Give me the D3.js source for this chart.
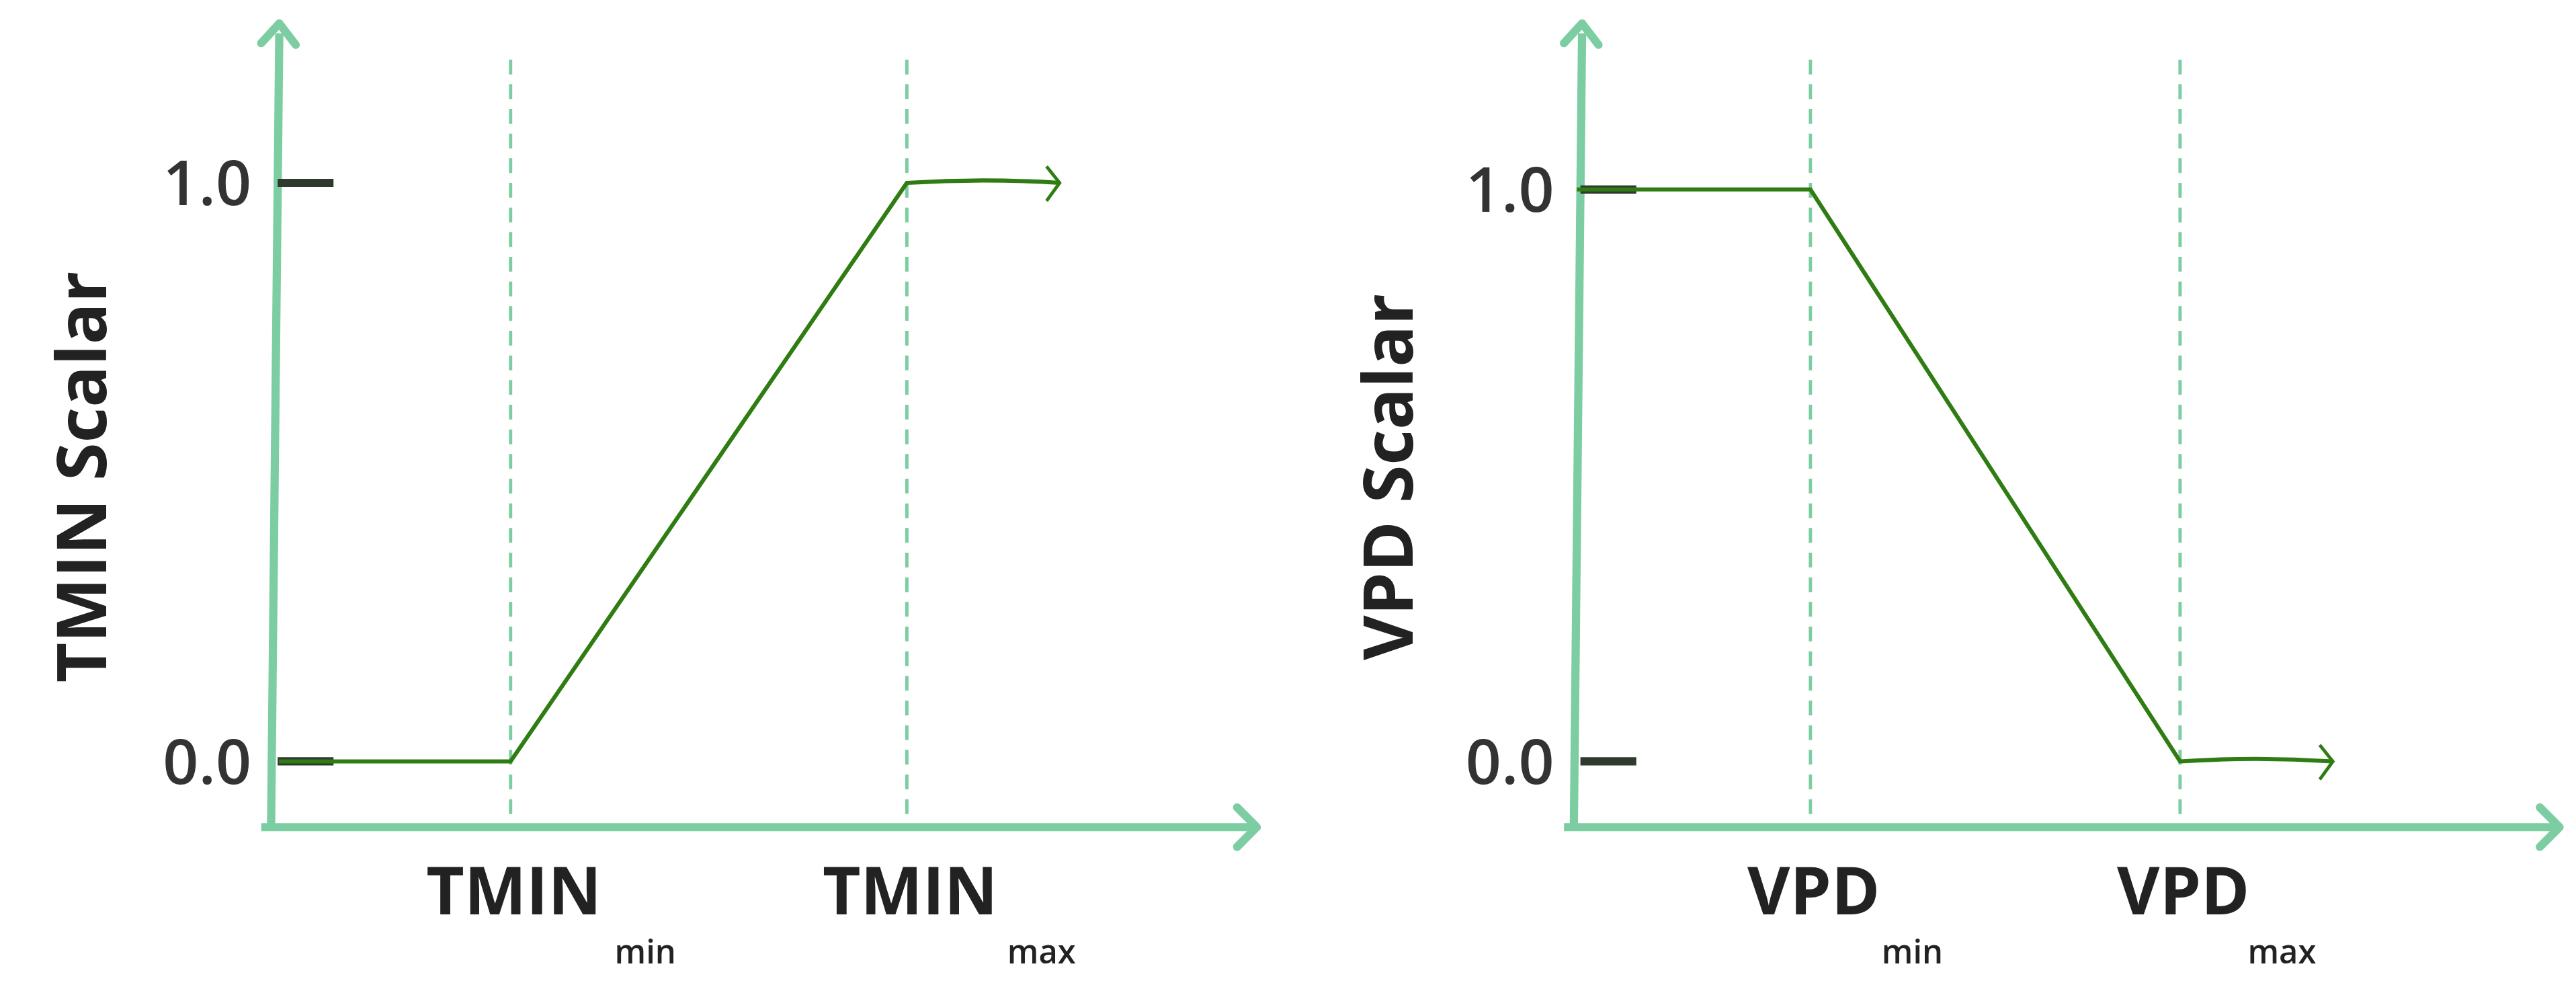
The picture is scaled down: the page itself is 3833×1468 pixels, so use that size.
<!DOCTYPE html>
<html><head><meta charset="utf-8">
<script src="https://cdn.jsdelivr.net/npm/d3@7"></script>
<style>html,body{margin:0;padding:0;background:#fff;}</style>
</head><body>
<svg id="c" width="3833" height="1468" viewBox="0 0 1568 600"></svg>
<script>
// Data (x in arbitrary units 0..10 along the axis, y = scalar)
const panels = ["TMIN", "VPD"];
const yTicks = [0.0, 1.0];
const yTickLabels = ["0.0", "1.0"];
const tminX = [0.08, 2.43, 6.45, 8.0];
const tminY = [0.0, 0.0, 1.0, 1.0];
const tminThresholds = [2.43, 6.45];
const vpdX = [0.03, 2.4, 6.15, 7.7];
const vpdY = [1.0, 1.0, 0.0, 0.0];
const vpdThresholds = [2.4, 6.15];
const subLabels = ["min", "max"];

const svg = d3.select("#c");
const axisCol = "#7ccda2", lineCol = "#2f7d12", tickCol = "#2e3a2c", textCol = "#222";
const font = "'Open Sans', sans-serif";

function panel(ox, name, xs, ys, th, y1px, ylabX) {
  const x = d3.scaleLinear().domain([0, 10]).range([ox, ox + 600]);
  const y = d3.scaleLinear().domain([0, 1]).range([463, y1px]);
  const g = svg.append("g");
  // axes
  g.append("path").attr("d", `M${ox},503 L${ox+5},20`).attr("stroke", axisCol).attr("stroke-width", 5).attr("fill","none");
  g.append("path").attr("d", `M${ox-6},503 L${ox+598},503`).attr("stroke", axisCol).attr("stroke-width", 5).attr("fill","none");
  g.append("path").attr("d", `M${ox-6},26 L${ox+5},14 L${ox+15},27`).attr("stroke", axisCol).attr("stroke-width", 5).attr("fill","none").attr("stroke-linecap","round").attr("stroke-linejoin","round");
  g.append("path").attr("d", `M${ox+588},491 L${ox+600},503 L${ox+588},515`).attr("stroke", axisCol).attr("stroke-width", 5).attr("fill","none").attr("stroke-linecap","round").attr("stroke-linejoin","round");
  // dashed thresholds
  th.forEach(t => g.append("line").attr("x1", x(t)).attr("x2", x(t)).attr("y1", 36).attr("y2", 498)
    .attr("stroke", axisCol).attr("stroke-width", 2).attr("stroke-dasharray", "9,6"));
  // y ticks
  yTicks.forEach((t, i) => {
    g.append("line").attr("x1", ox+4).attr("x2", ox+38).attr("y1", y(t)).attr("y2", y(t)).attr("stroke", tickCol).attr("stroke-width", 5);
    g.append("text").attr("x", ox-12).attr("y", y(t)).attr("dy", "0.36em").attr("text-anchor","end")
      .attr("font-family", font).attr("font-weight", 600).attr("font-size", 38).attr("fill", "#333").text(yTickLabels[i]);
  });
  // line
  const pts = xs.map((v, i) => [x(v), y(ys[i])]);
  g.append("path").attr("d", d3.line()(pts.slice(0, 3)) + ` Q${(pts[2][0]+pts[3][0])/2},${pts[2][1]-3} ${pts[3][0]},${pts[3][1]}`)
    .attr("stroke", lineCol).attr("stroke-width", 2.5).attr("fill","none");
  const [ax, ay] = pts[3];
  g.append("path").attr("d", `M${ax-8},${ay-10} L${ax},${ay} L${ax-8},${ay+11}`).attr("stroke", lineCol).attr("stroke-width", 2).attr("fill","none");
  // y label
  g.append("text").attr("transform", `translate(${ylabX},290) rotate(-90)`).attr("text-anchor","middle").attr("dy","0.35em")
    .attr("font-family", font).attr("font-weight", 700).attr("font-size", 42).attr("fill", textCol).text(name + " Scalar");
  // x labels
  th.forEach((t, i) => {
    g.append("text").attr("x", x(t) + 2).attr("y", 556).attr("text-anchor","middle")
      .attr("font-family", font).attr("font-weight", 700).attr("font-size", 40).attr("fill", textCol).text(name);
    g.append("text").attr("x", x(t) + (name === "TMIN" ? 82 : 62)).attr("y", 586).attr("text-anchor","middle")
      .attr("font-family", font).attr("font-weight", 600).attr("font-size", 20).attr("fill", textCol).text(subLabels[i]);
  });
}
panel(165, panels[0], tminX, tminY, tminThresholds, 111, 50);
panel(958, panels[1], vpdX, vpdY, vpdThresholds, 115, 845);
</script>
</body></html>
